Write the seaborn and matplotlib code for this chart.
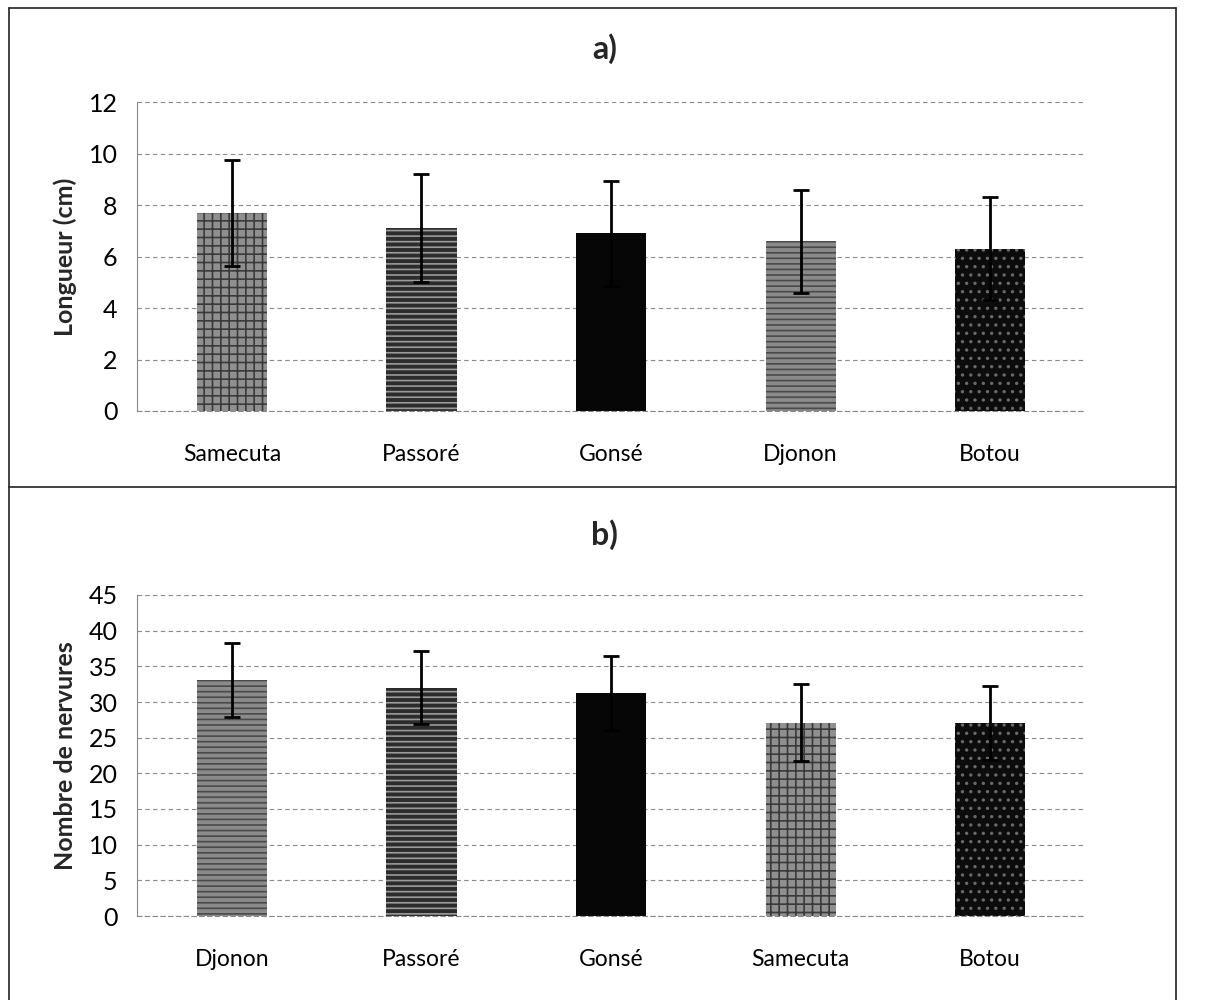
import matplotlib
matplotlib.use("Agg")
import matplotlib.pyplot as plt
import seaborn as sns
import pandas as pd
from matplotlib.lines import Line2D

# ---- data ----
cats_a = ["Samecuta", "Passoré", "Gonsé", "Djonon", "Botou"]
vals_a = [7.7, 7.1, 6.9, 6.6, 6.3]
err_a = [2.05, 2.1, 2.05, 2.0, 2.0]

cats_b = ["Djonon", "Passoré", "Gonsé", "Samecuta", "Botou"]
vals_b = [33.1, 32.0, 31.3, 27.1, 27.0]
err_b = [5.2, 5.15, 5.2, 5.4, 5.2]

title_a = "a)"
title_b = "b)"
ylabel_a = "Longueur (cm)"
ylabel_b = "Nombre de nervures"
yticks_a = [0, 2, 4, 6, 8, 10, 12]
yticks_b = [0, 5, 10, 15, 20, 25, 30, 35, 40, 45]

# per-site styles (texture imitation)
face = {"Samecuta": "#8f8f8f", "Passoré": "#2c2c2c", "Gonsé": "#060606",
        "Djonon": "#8a8a8a", "Botou": "#0c0c0c"}
hatchc = {"Samecuta": "#3a3a3a", "Passoré": "#9a9a9a", "Gonsé": "#060606",
          "Djonon": "#4a4a4a", "Botou": "#6a6a6a"}
hatches = {"Samecuta": "++", "Passoré": "---", "Gonsé": "", "Djonon": "---", "Botou": ".."}

sns.set_theme(style="white")
plt.rcParams["font.family"] = ["Lato", "DejaVu Sans"]
plt.rcParams["hatch.linewidth"] = 1.2

fig = plt.figure(figsize=(12.16, 10.0), dpi=100)


def panel(rect, cats, vals, errs, title, ylabel, yticks, title_y, ylsize):
    ax = fig.add_axes(rect)
    df = pd.DataFrame({"site": cats, "val": vals})
    sns.barplot(data=df, x="site", y="val", hue="site", palette=[face[c] for c in cats],
                width=0.37, legend=False, ax=ax, saturation=1)
    for patch, c in zip(ax.patches, cats):
        patch.set_hatch(hatches[c])
        patch.set_edgecolor(hatchc[c])
        patch.set_linewidth(0)
    ax.errorbar(range(len(cats)), vals, yerr=errs, fmt="none", ecolor="black",
                elinewidth=2.0, capsize=6, capthick=2.0, zorder=5)
    ax.set_ylim(yticks[0], yticks[-1])
    ax.set_xlim(-0.5, len(cats) - 0.5)
    ax.set_yticks(yticks)
    ax.yaxis.grid(True, color="#8a8a8a", linestyle=(0, (4, 3)), linewidth=0.8)
    ax.set_axisbelow(True)
    for s in ["top", "right"]:
        ax.spines[s].set_visible(False)
    ax.spines["left"].set_color("#888888")
    ax.spines["left"].set_linewidth(0.8)
    ax.spines["bottom"].set_color("#888888")
    ax.spines["bottom"].set_linestyle((0, (4, 3)))
    ax.spines["bottom"].set_linewidth(0.8)
    ax.tick_params(axis="y", length=0, labelsize=18, colors="black", pad=14)
    ax.tick_params(axis="x", length=0, labelsize=16.5, colors="black", pad=24)
    ax.set_xlabel("")
    ax.set_ylabel(ylabel, fontsize=ylsize, fontweight="bold", labelpad=8)
    fig.text(0.497, title_y, title, ha="center", va="center", fontsize=23, fontweight="bold")
    return ax


panel([0.1127, 0.589, 0.7796, 0.309], cats_a, vals_a, err_a, title_a, ylabel_a, yticks_a, 0.951, 18)
panel([0.1127, 0.084, 0.7796, 0.321], cats_b, vals_b, err_b, title_b, ylabel_b, yticks_b, 0.465, 18)

# panel frames
lc = "#222222"
for xs, ys in [([0.007, 0.967], [0.992, 0.992]),
               ([0.007, 0.007], [0.0, 0.992]),
               ([0.967, 0.967], [0.0, 0.992]),
               ([0.007, 0.967], [0.513, 0.513])]:
    fig.add_artist(Line2D(xs, ys, transform=fig.transFigure, color=lc, linewidth=1.2))

fig.savefig("out.png", dpi=100, facecolor="white")
